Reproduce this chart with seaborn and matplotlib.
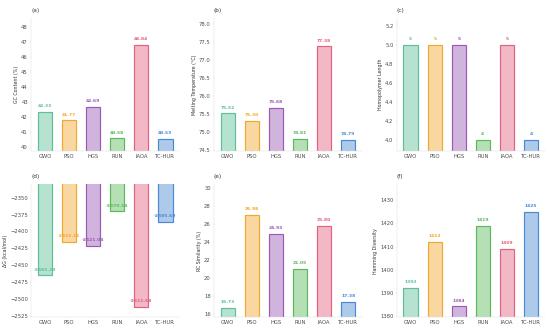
import matplotlib
matplotlib.use("Agg")
import matplotlib.pyplot as plt
import seaborn as sns
import pandas as pd
from matplotlib.colors import to_rgba

# algorithms and their colours
algos = ["GWO", "PSO", "HGS", "RUN", "IAOA", "TC-HUR"]
colors = ["#5fbf98", "#f0a830", "#9b59b6", "#5cb85c", "#e3627f", "#4a8ad4"]

# metric values
gc_content = [42.33, 41.77, 42.69, 40.58, 46.84, 40.53]
melting_temp = [75.52, 75.30, 75.68, 74.81, 77.38, 74.79]
homopolymer = [5, 5, 5, 4, 5, 4]
delta_g = [-2465.29, -2415.11, -2421.04, -2370.14, -2511.68, -2385.69]
rc_similarity = [16.73, 26.98, 24.93, 21.05, 25.80, 17.38]
hamming = [1392, 1412, 1384, 1419, 1409, 1425]

panels = [
    ("(a)", "GC Content (%)", gc_content, "{:.2f}", (39.73, 48.62)),
    ("(b)", "Melting Temperature (°C)", melting_temp, "{:.2f}", (74.47, 78.17)),
    ("(c)", "Homopolymer Length", homopolymer, "{:d}", (3.88, 5.28)),
    ("(d)", "ΔG (kcal/mol)", delta_g, "{:.2f}", (-2527.5, -2330)),
    ("(e)", "RC Similarity (%)", rc_similarity, "{:.2f}", (15.68, 30.4)),
    ("(f)", "Hamming Diversity", hamming, "{:d}", (1379.3, 1437.0)),
]

sns.set_style("white")
plt.rcParams['font.family'] = ['DejaVu Sans']

fig, axes = plt.subplots(2, 3, figsize=(16, 9.63))
fig.subplots_adjust(left=0.0564, right=0.9909, top=0.9456, bottom=0.0414,
                    wspace=0.233, hspace=0.25)

for ax, (tag, ylabel, vals, fmt, ylim) in zip(axes.flat, panels):
    df = pd.DataFrame({"algo": algos, "val": vals})
    sns.barplot(data=df, x="algo", y="val", hue="algo", palette=colors,
                width=0.6, legend=False, ax=ax)
    for patch, c in zip(ax.patches, colors):
        patch.set_facecolor(to_rgba(c, 0.45))
        patch.set_edgecolor(c)
        patch.set_linewidth(2.5)
    for i, v in enumerate(vals):
        ax.annotate(fmt.format(v), (i, v), xytext=(0, 12), textcoords="offset points",
                    ha="center", va="center", fontsize=9.5, fontweight="bold",
                    color=colors[i])
    ax.set_ylim(*ylim)
    ax.set_xlim(-0.58, 5.58)
    ax.set_xlabel("")
    ax.set_ylabel(ylabel, fontsize=10, color=".2")
    ax.set_title(tag, loc="left", fontsize=12, pad=13, color=".2")
    ax.tick_params(axis="both", which="both", bottom=True, left=True, length=3,
                   color=".75", labelcolor=".3", labelsize=11)
    for s in ["left", "bottom"]:
        ax.spines[s].set_color(".85")
    sns.despine(ax=ax)

fig.savefig("out.png", dpi=34.375)
